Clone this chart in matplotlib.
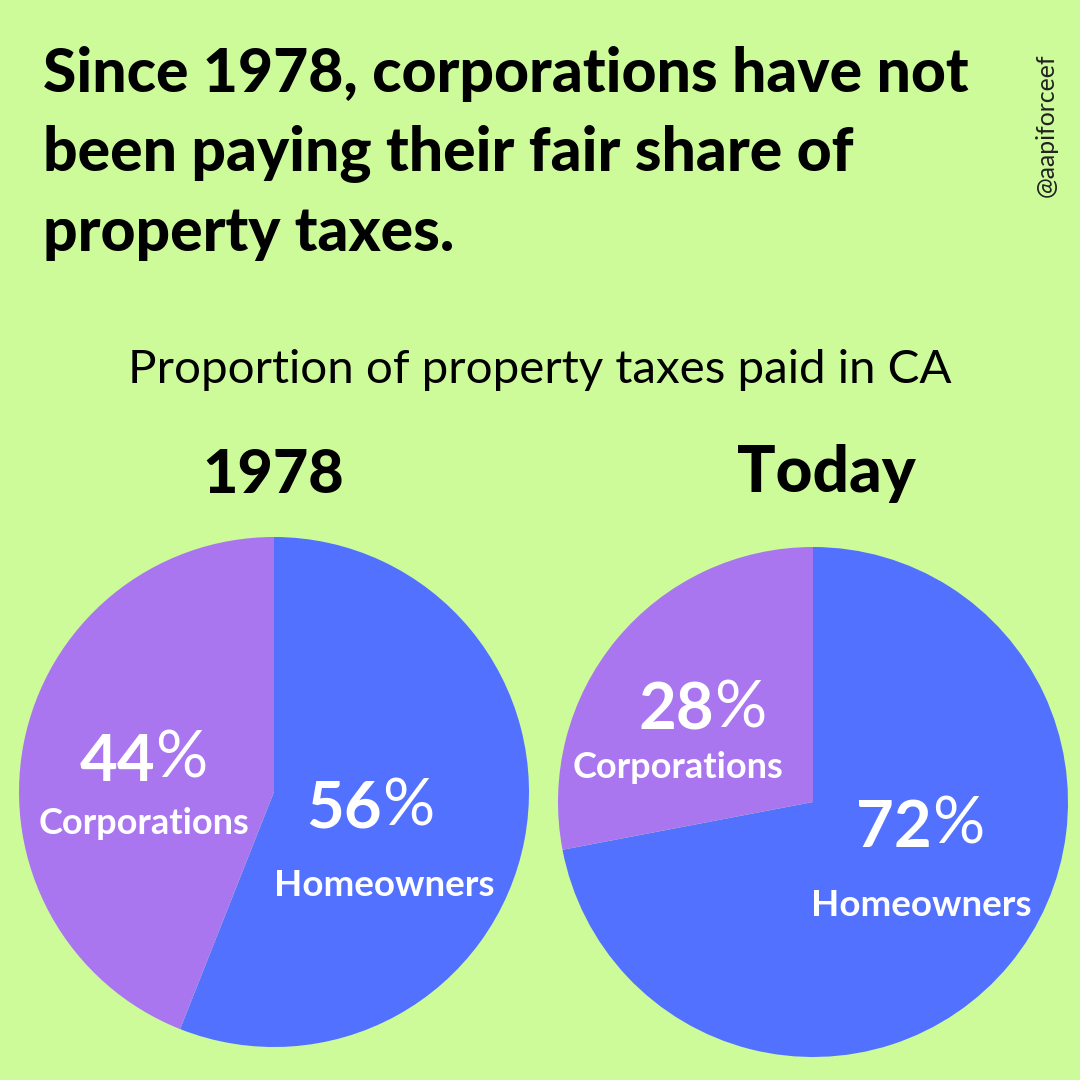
import matplotlib
matplotlib.use("Agg")
import matplotlib.pyplot as plt

categories = ["Homeowners", "Corporations"]
values_1978 = [56, 44]
values_today = [72, 28]
blue = "#5271FF"
purple = "#A976F0"
bg = "#CDFB9A"
S = 1080

plt.rcParams['font.family'] = ['Lato', 'DejaVu Sans']
fig = plt.figure(figsize=(10.8, 10.8), dpi=100, facecolor=bg)

def T(x, y, s, size, weight='normal', **kw):
    kw.setdefault('ha', 'center')
    kw.setdefault('va', 'center_baseline')
    fig.text(x/S, 1-y/S, s, fontsize=size, fontweight=weight, color=kw.pop('color', 'black'), **kw)

def pie(cx, cy, r, vals):
    ax = fig.add_axes([(cx-r)/S, 1-(cy+r)/S, 2*r/S, 2*r/S])
    ax.pie(vals, colors=[blue, purple], startangle=90, counterclock=False, radius=1,
           wedgeprops=dict(linewidth=0))
    ax.set_xlim(-1, 1); ax.set_ylim(-1, 1)
    ax.set_aspect('equal')

def pct(split_x, y, v):
    T(split_x, y, str(v), 47, 'bold', color='white', ha='right')
    T(split_x, y - 3, "%", 47, 'normal', color='white', ha='left')

pie(274, 792, 255, values_1978)
pie(813, 802, 255, values_today)

T(43, 69, "Since 1978, corporations have not", 43.6, 'black', ha='left')
T(43, 148, "been paying their fair share of", 43.6, 'black', ha='left')
T(43, 228, "property taxes.", 43.6, 'black', ha='left')
T(540, 366, "Proportion of property taxes paid in CA", 34.2, 'normal')
T(273, 470, "1978", 44, 'black')
T(826, 468, "Today", 46, 'black')
T(1046, 125, "@aapiforceef", 17.8, 'normal', rotation=90, color='#222222', va='center')

w = 'white'
pct(155, 757, values_1978[1])
T(144, 821, categories[1], 26, 'bold', color=w)
pct(382, 804, values_1978[0])
T(384, 882, categories[0], 26.5, 'bold', color=w)
pct(714, 706, values_today[1])
T(678, 764, categories[1], 26, 'bold', color=w)
pct(932, 823, values_today[0])
T(921, 902, categories[0], 26.5, 'bold', color=w)

fig.savefig("out.png", dpi=100, facecolor=bg)
